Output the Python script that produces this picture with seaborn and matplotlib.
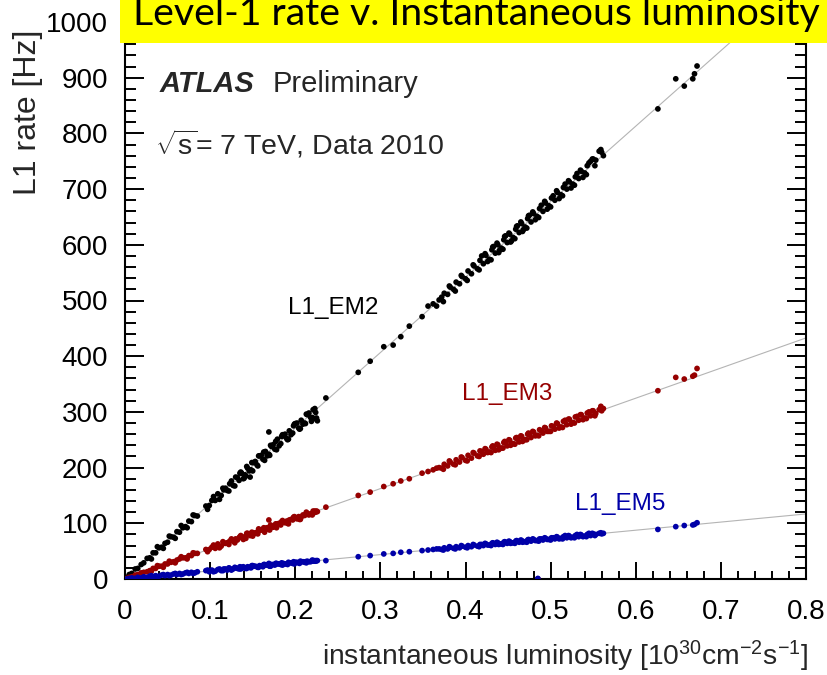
import numpy as np
import pandas as pd
import matplotlib
matplotlib.use("Agg")
import matplotlib.pyplot as plt
from matplotlib.patches import Rectangle
from matplotlib.ticker import MultipleLocator, FuncFormatter
import seaborn as sns

# ---- Level-1 trigger rates per luminosity block (10^30 cm^-2 s^-1, Hz) ----
# early low-luminosity runs
lumi_low = [0.002, 0.005, 0.008, 0.012, 0.015, 0.019, 0.022, 0.026, 0.029, 0.033,
            0.036, 0.040, 0.043, 0.047, 0.050, 0.054, 0.057, 0.061, 0.064, 0.068,
            0.071, 0.075, 0.078, 0.082, 0.085, 0.095, 0.099, 0.102, 0.106, 0.109,
            0.113, 0.116, 0.120, 0.123, 0.127, 0.130, 0.134, 0.137, 0.141, 0.144,
            0.148, 0.151, 0.155, 0.158, 0.162, 0.165, 0.169, 0.172, 0.176, 0.179,
            0.183, 0.186, 0.190, 0.193, 0.197, 0.200, 0.204, 0.207, 0.211, 0.214,
            0.218, 0.221, 0.224,
            0.118, 0.132, 0.146, 0.153, 0.160, 0.167, 0.174, 0.181, 0.188, 0.195,
            0.202, 0.209, 0.216, 0.223, 0.212, 0.219, 0.222, 0.225, 0.226, 0.169,
            0.140, 0.147,
            0.031, 0.038, 0.045, 0.052, 0.059, 0.066, 0.073, 0.080, 0.097, 0.104,
            0.111, 0.115, 0.122, 0.125, 0.129, 0.136, 0.139, 0.143, 0.150, 0.157,
            0.164, 0.171, 0.178, 0.185, 0.192, 0.199, 0.206, 0.213, 0.220, 0.184,
            0.191, 0.198, 0.205, 0.177, 0.170, 0.163, 0.156, 0.149, 0.142, 0.135]
em2_low = [3, 8, 10, 18, 19, 26, 29, 37, 38, 47,
           47, 56, 57, 64, 66, 76, 75, 85, 84, 92,
           94, 104, 103, 114, 113, 131, 132, 141, 141, 153,
           150, 160, 159, 171, 168, 183, 177, 190, 187, 199,
           196, 209, 205, 221, 215, 229, 224, 238, 233, 251,
           243, 257, 252, 266, 262, 279, 271, 285, 280, 295,
           290, 304, 299,
           163, 182, 194, 211, 222, 221, 241, 239, 260, 259,
           280, 278, 298, 306, 279, 283, 288, 289, 284, 264,
           181, 183,
           36, 58, 55, 77, 73, 96, 92, 115, 125, 148,
           143, 163, 158, 176, 167, 192, 180, 202, 194, 221,
           213, 240, 232, 259, 251, 278, 270, 296, 290, 256,
           250, 275, 269, 247, 222, 228, 203, 209, 185, 190]
em3_low = [1, 3, 4, 7, 8, 11, 12, 13, 15, 19,
           19, 23, 23, 27, 27, 30, 31, 34, 36, 38,
           38, 42, 42, 46, 46, 53, 53, 57, 55, 63,
           59, 64, 65, 68, 68, 72, 74, 76, 76, 82,
           80, 83, 84, 87, 89, 91, 89, 95, 95, 99,
           97, 102, 104, 106, 106, 110, 112, 111, 114, 118,
           117, 122, 120,
           64, 70, 81, 82, 88, 92, 93, 100, 101, 107,
           108, 115, 115, 122, 116, 117, 119, 122, 121, 106,
           74, 78,
           14, 24, 21, 32, 29, 40, 36, 47, 49, 61,
           56, 67, 62, 72, 65, 78, 71, 82, 77, 90,
           84, 97, 92, 105, 99, 112, 107, 120, 115, 103,
           100, 111, 107, 99, 88, 92, 81, 84, 73, 76]
em5_low = [0, 1, 2, 1, 3, 2, 4, 3, 5, 4,
           6, 5, 7, 6, 8, 7, 9, 8, 10, 9,
           11, 10, 12, 11, 13, 15, 13, 16, 14, 17,
           15, 18, 16, 19, 18, 20, 18, 21, 20, 22,
           20, 23, 22, 24, 22, 25, 24, 26, 25, 27,
           26, 28, 27, 29, 28, 30, 29, 31, 30, 32,
           31, 33, 32,
           18, 19, 21, 23, 23, 25, 26, 27, 27, 29,
           30, 31, 31, 33, 31, 32, 32, 33, 33, 28,
           20, 21,
           6, 4, 8, 6, 10, 8, 12, 10, 16, 13,
           18, 15, 20, 16, 21, 18, 22, 19, 24, 21,
           26, 23, 28, 25, 30, 27, 32, 29, 34, 29,
           26, 31, 28, 28, 23, 26, 21, 24, 19, 22]

# sparse intermediate runs
lumi_mid = [0.236, 0.274, 0.288, 0.304, 0.315, 0.324, 0.334, 0.349, 0.356, 0.362, 0.366, 0.369]
em2_mid = [325, 371, 391, 417, 420, 435, 454, 471, 490, 494, 490, 501]
em3_mid = [129, 150, 156, 166, 171, 176, 180, 190, 193, 196, 199, 200]
em5_mid = [33, 40, 42, 45, 46, 48, 49, 51, 52, 53, 54, 54]

# higher-luminosity runs
lumi_high = [0.372, 0.375, 0.379, 0.382, 0.386, 0.389, 0.393, 0.396, 0.400, 0.403,
             0.407, 0.410, 0.414, 0.417, 0.421, 0.424, 0.428, 0.431, 0.435, 0.438,
             0.442, 0.445, 0.449, 0.452, 0.456, 0.459, 0.463, 0.466, 0.470, 0.473,
             0.477, 0.480, 0.484, 0.487, 0.491, 0.494, 0.498, 0.501, 0.505, 0.508,
             0.512, 0.515, 0.519, 0.522, 0.526, 0.529, 0.533, 0.536, 0.540, 0.543,
             0.547, 0.550, 0.553,
             0.419, 0.426, 0.433, 0.440, 0.447, 0.454, 0.461, 0.468, 0.475, 0.482,
             0.489, 0.496, 0.503, 0.557, 0.559, 0.560, 0.562,
             0.374, 0.381, 0.388, 0.395, 0.402, 0.409, 0.416, 0.423, 0.430, 0.437,
             0.444, 0.451, 0.458, 0.465, 0.472, 0.479, 0.486, 0.493, 0.500, 0.507,
             0.514, 0.521, 0.528, 0.535, 0.542, 0.549, 0.552, 0.545, 0.538, 0.531,
             0.524, 0.517, 0.510, 0.432, 0.439, 0.446, 0.453, 0.460, 0.467, 0.474]
em2_high = [506, 513, 511, 524, 520, 533, 530, 543, 539, 553,
            548, 562, 557, 572, 566, 581, 574, 591, 585, 600,
            594, 609, 604, 619, 613, 628, 622, 638, 632, 647,
            641, 656, 651, 665, 660, 675, 670, 684, 680, 694,
            690, 703, 700, 713, 709, 722, 719, 732, 729, 742,
            750, 754, 752,
            580, 570, 597, 590, 616, 607, 634, 627, 653, 645,
            671, 664, 688, 768, 771, 766, 760,
            498, 526, 517, 545, 536, 564, 555, 584, 573, 603,
            592, 621, 611, 641, 630, 659, 649, 678, 668, 697,
            688, 715, 707, 734, 726, 754, 742, 747, 721, 728,
            702, 709, 683, 596, 586, 615, 605, 633, 624, 652]
em3_high = [199, 206, 203, 210, 206, 214, 210, 218, 213, 222,
            217, 226, 221, 230, 224, 233, 228, 237, 231, 241,
            235, 245, 239, 249, 243, 253, 246, 256, 250, 260,
            254, 264, 258, 268, 262, 271, 265, 275, 269, 279,
            273, 283, 277, 287, 281, 291, 285, 295, 289, 298,
            293, 302, 297,
            229, 227, 236, 235, 244, 242, 251, 250, 259, 257,
            266, 265, 274, 304, 310, 302, 306,
            197, 212, 205, 219, 212, 227, 220, 234, 227, 242,
            235, 250, 242, 257, 250, 265, 257, 272, 265, 280,
            272, 287, 280, 295, 288, 302, 293, 300, 286, 292,
            278, 285, 271, 239, 232, 247, 240, 254, 247, 262]
em5_high = [53, 56, 54, 57, 55, 58, 56, 59, 57, 60,
            58, 61, 59, 62, 60, 63, 61, 64, 62, 65,
            63, 66, 64, 67, 65, 68, 66, 69, 67, 70,
            68, 71, 69, 72, 70, 73, 71, 74, 72, 75,
            73, 76, 74, 77, 75, 78, 76, 79, 77, 80,
            78, 81, 80,
            62, 61, 64, 63, 66, 65, 68, 67, 70, 69,
            72, 71, 74, 82, 83, 81, 82,
            52, 58, 54, 60, 56, 62, 58, 64, 60, 66,
            62, 68, 64, 70, 66, 72, 68, 74, 70, 76,
            72, 78, 74, 80, 76, 82, 78, 82, 76, 80,
            74, 78, 72, 65, 62, 67, 64, 69, 66, 71]

# isolated high-luminosity blocks
lumi_top = [0.485, 0.626, 0.647, 0.657, 0.667, 0.669, 0.672]
em2_top = [0, 844, 898, 885, 898, 907, 921]
em3_top = [0, 338, 362, 359, 364, 366, 378]
em5_top = [1, 89, 94, 96, 97, 98, 101]

triggers = ["L1_EM2", "L1_EM3", "L1_EM5"]
fit_slope = [1355, 541, 146]          # Hz per 10^30 cm^-2 s^-1
colors = ["#000000", "#960000", "#0000a8"]
label_pos = [(0.191, 475), (0.396, 322), (0.529, 124)]

x_ticks = [0, 0.1, 0.2, 0.3, 0.4, 0.5, 0.6, 0.7, 0.8]
y_ticks = [0, 100, 200, 300, 400, 500, 600, 700, 800, 900, 1000]

lumi_all = lumi_low + lumi_mid + lumi_high + lumi_top
rates = {
    "L1_EM2": em2_low + em2_mid + em2_high + em2_top,
    "L1_EM3": em3_low + em3_mid + em3_high + em3_top,
    "L1_EM5": em5_low + em5_mid + em5_high + em5_top,
}
df = pd.concat(
    [pd.DataFrame({"lumi": lumi_all, "rate": rates[t], "trigger": t}) for t in triggers],
    ignore_index=True,
)

sns.set_theme(style="ticks")
plt.rcParams["font.family"] = ["Liberation Sans", "DejaVu Sans"]
plt.rcParams["mathtext.fontset"] = "custom"
plt.rcParams["mathtext.rm"] = "Liberation Sans"
plt.rcParams["mathtext.it"] = "Liberation Sans:italic"
plt.rcParams["mathtext.bf"] = "Liberation Sans:bold"
plt.rcParams["mathtext.default"] = "regular"

fig = plt.figure(figsize=(8.27, 6.75), dpi=100)
fig.patch.set_facecolor("white")
ax = fig.add_axes([125 / 827, 1 - 579 / 675, (806 - 125) / 827, (579 - 22) / 675])

# straight-line fits through the origin
for slope in fit_slope:
    ax.axline((0, 0), slope=slope, color="#b4b4b4", lw=0.8, zorder=1)

sns.scatterplot(data=df, x="lumi", y="rate", hue="trigger", hue_order=triggers,
                palette=dict(zip(triggers, colors)), s=17, linewidth=0,
                legend=False, ax=ax, zorder=3)

ax.set_xlim(0, 0.8)
ax.set_ylim(0, 1000)
ax.set_xticks(x_ticks)
ax.set_yticks(y_ticks)
ax.xaxis.set_minor_locator(MultipleLocator(0.02))
ax.yaxis.set_minor_locator(MultipleLocator(20))
ax.xaxis.set_major_formatter(FuncFormatter(lambda v, _: "0" if abs(v) < 1e-9 else f"{v:.1f}"))

for sp in ax.spines.values():
    sp.set_linewidth(1.5)
    sp.set_color("black")
ax.tick_params(which="both", direction="in", top=True, right=True, width=1.4, color="black",
               labelcolor="black")
ax.tick_params(axis="y", which="major", length=14, pad=12, labelsize=20)
ax.tick_params(axis="y", which="minor", length=8)
ax.tick_params(axis="x", which="major", length=12, pad=14.5, labelsize=20)
ax.tick_params(axis="x", which="minor", length=6)

ax.set_xlabel("instantaneous luminosity [10$^{30}$cm$^{-2}$s$^{-1}$]", fontsize=20.3,
              ha="right", va="top")
ax.xaxis.set_label_coords(1.003, -0.108)
ax.set_ylabel("L1 rate [Hz]", fontsize=23, loc="top")
ax.yaxis.set_label_coords(-0.121, 0.986)

# experiment labels
ax.text(0.041, 874, "ATLAS", fontsize=21, fontweight="bold", fontstyle="italic", va="baseline")
ax.text(0.173, 874, "Preliminary", fontsize=21, va="baseline")
ax.text(0.035, 763, r"$\sqrt{s}$= 7 TeV, Data 2010", fontsize=20.5, va="baseline")

for trig, (lx, ly), col in zip(triggers, label_pos, colors):
    ax.text(lx, ly, trig, fontsize=17.5, color=col, va="baseline")

# highlighted slide title across the top
fig.add_artist(Rectangle((120 / 827, 1 - 43 / 675), 1, 43 / 675, transform=fig.transFigure,
                         facecolor="#ffff00", edgecolor="none", zorder=20))
fig.text(133 / 827, 1 - 25 / 675, "Level-1 rate v. Instantaneous luminosity",
         family=["Lato", "DejaVu Sans"], fontsize=28.3, color="black",
         va="baseline", ha="left", zorder=21)

fig.savefig("out.png", dpi=100)
